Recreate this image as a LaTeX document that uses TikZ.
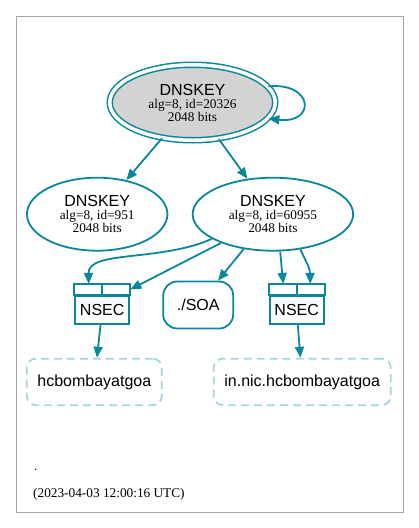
\documentclass[tikz,border=0pt]{standalone}
\usepackage{fontspec}
\setmainfont{Liberation Serif}
\newfontfamily\helv{Liberation Sans}
\usetikzlibrary{shapes.geometric,arrows.meta}
\definecolor{dnsteal}{RGB}{10,135,154}
\definecolor{dnsgray}{RGB}{211,211,211}
\definecolor{dnsfaint}{RGB}{168,212,220}
\newcommand{\keytext}[1]{{\helv\fontsize{16}{13}\selectfont DNSKEY}\\alg=8, id=#1\\2048 bits}

\begin{document}
\begin{tikzpicture}[
    x=1pt, y=-1pt,
    every node/.style={align=center, inner sep=0pt, font=\fontsize{13.3}{13}\selectfont},
    keynode/.style={ellipse, draw=dnsteal, line width=1.8pt},
    nsecbox/.style={draw=dnsteal, line width=2.2pt, minimum width=54pt, minimum height=28pt, font=\helv\fontsize{16}{19}\selectfont},
    nsecline/.style={draw=dnsteal, line width=2.2pt},
    namebox/.style={draw=dnsfaint, dash pattern=on 8pt off 5pt, line width=1.8pt, rounded corners=9pt, minimum height=46.5pt, font=\helv\fontsize{16}{19}\selectfont},
    edge/.style={draw=dnsteal, line width=1.8pt, -{Triangle[length=11pt,width=9pt]}}
]
\useasboundingbox (0,0) rectangle (419,528);
\draw[gray!70, line width=0.8pt] (16,16) rectangle (403,512);

\node[keynode, double=white, double distance=3.5pt, line width=1.5pt, fill=dnsgray, minimum width=165.5pt, minimum height=75.5pt] (ksk) at (192.5,102.5) {\keytext{20326}};
\node[keynode, minimum width=140.5pt, minimum height=73pt] (zsk951) at (97.2,214.2) {\keytext{951}};
\node[keynode, minimum width=160.5pt, minimum height=73pt] (zsk60955) at (272.9,214.2) {\keytext{60955}};

\node[nsecbox] (nsecl) at (102.2,310) {NSEC};
\node[nsecbox] (nsecr) at (296.7,310) {NSEC};
\foreach \n in {nsecl,nsecr} {
    \draw[nsecline] (\n.north west) rectangle ([yshift=11pt]\n.north east);
    \draw[nsecline] (\n.north) -- ([yshift=11pt]\n.north);
    \coordinate (\n-a) at ([xshift=-13.5pt,yshift=11pt]\n.north);
    \coordinate (\n-b) at ([xshift=13.5pt,yshift=11pt]\n.north);
    \coordinate (\n-e) at ([yshift=5.5pt]\n.north east);
}
\node[draw=dnsteal, line width=1.8pt, rounded corners=14pt, minimum width=70pt, minimum height=47pt, font=\helv\fontsize{16}{19}\selectfont] (soa) at (198.2,305) {./SOA};

\node[namebox, minimum width=135pt] (hcb) at (94.3,381.9) {hcbombayatgoa};
\node[namebox, minimum width=177pt] (innic) at (302.2,381.9) {in.nic.hcbombayatgoa};

\draw[edge] (ksk.12) .. controls (314,82) and (316,124) .. (ksk.-12);
\draw[edge] (ksk) -- (zsk951);
\draw[edge] (ksk) -- (zsk60955);
\draw[edge] (zsk60955.202) .. controls (160,262) and (88,250) .. (nsecl-a);
\draw[edge] (zsk60955.209) -- (nsecl-e);
\draw[edge] (zsk60955.230) -- (soa);
\draw[edge] (zsk60955.281) -- (nsecr-a);
\draw[edge] (zsk60955.308) .. controls (306,262) and (310,268) .. (nsecr-b);
\draw[edge] (nsecl) -- (hcb);
\draw[edge] (nsecr) -- (innic);

\node[anchor=base west] (zonename) at (34,470) {.};
\node[anchor=base west] (stamp) at (33,497) {(2023-04-03 12:00:16 UTC)};
\end{tikzpicture}
\end{document}
